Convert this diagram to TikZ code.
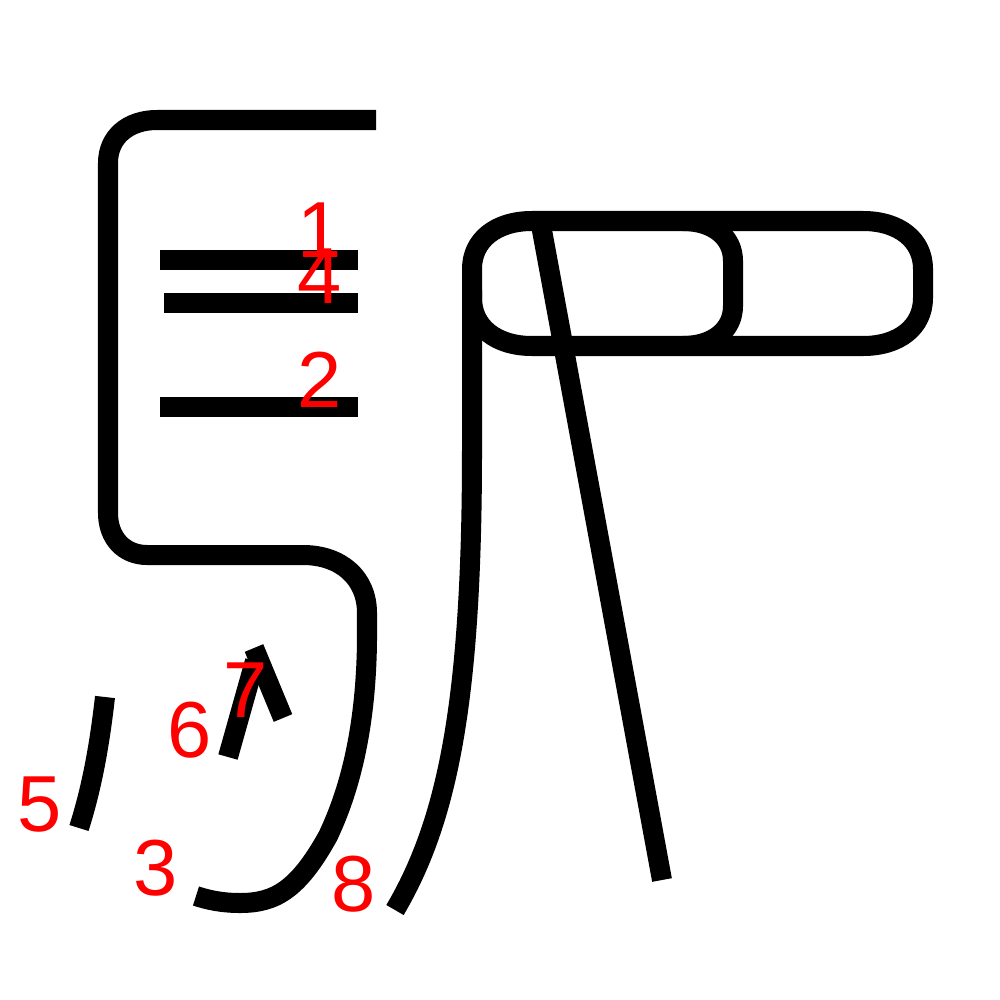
\documentclass[tikz,border=0pt]{standalone}
\usepackage{fontspec}
\setmainfont{Liberation Sans}
\begin{document}
\begin{tikzpicture}[x=0.01cm, y=-0.01cm,
		kstroke/.style={line width=2mm, line cap=butt, line join=round},
		snum/.style={text=red, inner sep=0pt, font=\fontsize{22.6}{26}\selectfont}]
		%%%%% START %%%%%
		\useasboundingbox (0, 0) rectangle (1000, 1000);
		
		\draw[kstroke] (160, 260) -- (358, 260);
		\draw[kstroke] (160, 407) -- (358, 407);
		\draw[kstroke] (376, 120) -- (157, 120) .. controls (128, 120) and (108, 137) .. (108, 163)
			-- (108, 513) .. controls (108, 538) and (124, 555) .. (147, 555)
			-- (303, 555) .. controls (341, 555) and (367, 578) .. (367, 613)
			-- (367, 640) .. controls (366, 740) and (345, 800) .. (328, 836)
			.. controls (298, 890) and (275, 903) .. (240, 903)
			.. controls (222, 903) and (208, 900) .. (196, 896);
		\draw[kstroke] (164, 303) -- (358, 303);
		\draw[kstroke] (105, 697) .. controls (99, 750) and (91, 790) .. (79, 828);
		\draw[kstroke] (255, 661) -- (228, 757);
		\draw[kstroke] (254, 648) -- (283, 718);
		
		% outer box and inner loop
		\draw[kstroke] (532, 221) -- (863, 221) .. controls (899, 221) and (923, 240) .. (923, 269)
			-- (923, 298) .. controls (923, 327) and (899, 346) .. (863, 346)
			-- (532, 346) .. controls (496, 346) and (472, 327) .. (472, 298)
			-- (472, 269) .. controls (472, 240) and (496, 221) .. cycle;
		\draw[kstroke] (683, 221) .. controls (713, 221) and (733, 237) .. (733, 261)
			-- (733, 306) .. controls (733, 330) and (713, 346) .. (683, 346);
		\draw[kstroke] (472, 290) -- (472, 450) .. controls (472, 700) and (448, 820) .. (395, 910);
		\draw[kstroke] (541, 225) -- (662, 880);
		
		\node[snum] (n1) at (320, 230) {1};
		\node[snum] (n2) at (320, 380) {2};
		\node[snum] (n3) at (156, 868) {3};
		\node[snum] (n4) at (320, 276) {4};
		\node[snum] (n5) at (40, 805) {5};
		\node[snum] (n6) at (190, 730) {6};
		\node[snum] (n7) at (246, 690) {7};
		\node[snum] (n8) at (354, 884) {8};
		%%%%% END %%%%%
	\end{tikzpicture}
\end{document}
